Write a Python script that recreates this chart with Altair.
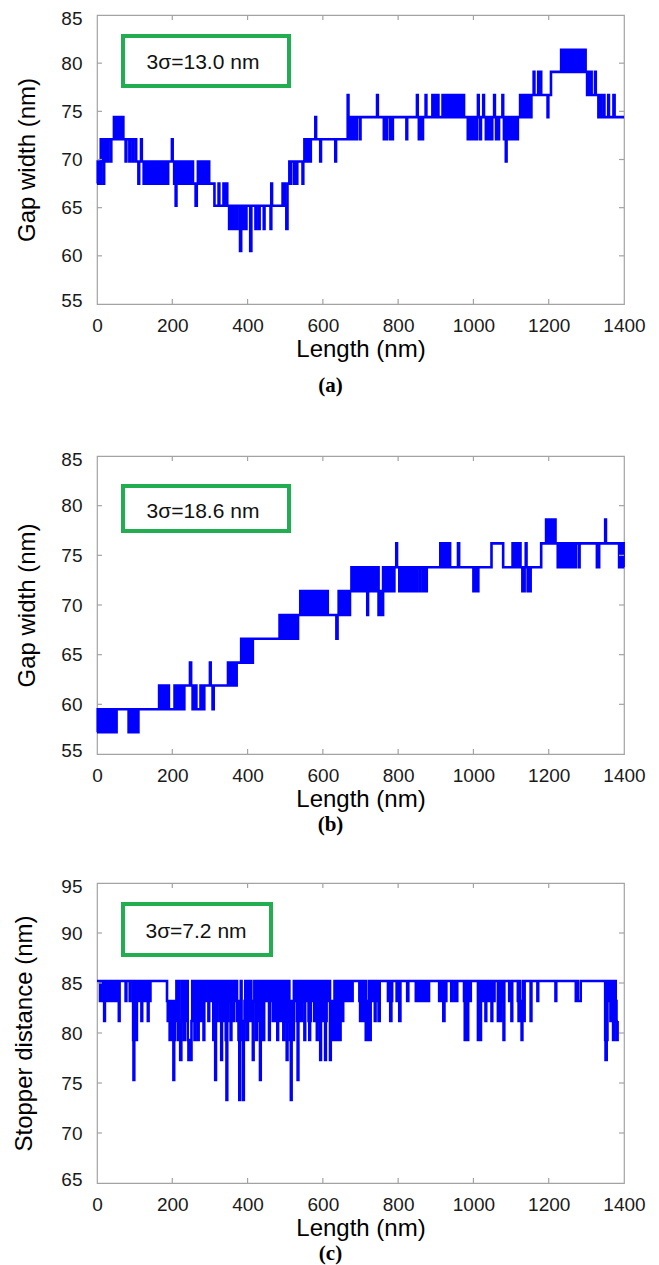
import altair as alt
import pandas as pd

# ---------------- data (Length nm, value nm), step-after ----------------
PTS_A = [(0,67.5),(2,69.8),(4,67.5),(6,69.8),(8,67.5),(10,72.1),(12,69.8),(14,72.1),(17,67.5),(19,72.1),(22,69.8),(24,72.1),(27,69.8),(29,72.1),(36,69.8),(38,72.1),(45,74.4),(48,72.1),(50,74.4),(53,72.1),(55,74.4),(58,72.1),(60,74.4),(64,72.1),(66,74.4),(70,72.1),(76,69.8),(78,72.1),(86,69.8),(88,72.1),(95,69.8),(97,72.1),(104,69.8),(110,67.5),(112,69.8),(117,72.1),(119,69.8),(124,67.5),(126,69.8),(132,67.5),(134,69.8),(136,67.5),(138,69.8),(140,67.5),(142,69.8),(145,67.5),(147,69.8),(150,67.5),(152,69.8),(156,67.5),(158,69.8),(162,67.5),(164,69.8),(167,67.5),(169,69.8),(172,67.5),(174,69.8),(177,67.5),(179,69.8),(182,67.5),(184,69.8),(187,67.5),(189,69.8),(199,72.1),(201,69.8),(205,67.5),(207,69.8),(209,65.2),(211,67.5),(214,69.8),(217,67.5),(220,69.8),(224,67.5),(226,69.8),(230,67.5),(233,69.8),(238,67.5),(240,69.8),(246,67.5),(249,69.8),(255,67.5),(262,65.2),(265,67.5),(268,69.8),(272,67.5),(275,69.8),(280,67.5),(284,69.8),(290,67.5),(293,69.8),(298,67.5),(312,65.2),(323,67.5),(325,65.2),(336,67.5),(338,65.2),(344,67.5),(346,65.2),(351,62.8),(353,65.2),(355,62.8),(357,65.2),(359,62.8),(361,65.2),(363,62.8),(365,65.2),(367,62.8),(369,65.2),(371,62.8),(373,65.2),(380,60.5),(383,65.2),(388,62.8),(390,65.2),(395,62.8),(397,65.2),(407,60.5),(410,65.2),(421,62.8),(423,65.2),(430,62.8),(432,65.2),(443,62.8),(445,65.2),(461,62.8),(463,67.5),(465,65.2),(493,67.5),(495,65.2),(497,67.5),(499,65.2),(503,62.8),(506,67.5),(511,69.8),(514,67.5),(516,69.8),(524,67.5),(526,69.8),(530,67.5),(532,69.8),(546,67.5),(548,69.8),(551,72.1),(554,69.8),(556,72.1),(560,69.8),(562,72.1),(566,69.8),(568,72.1),(580,74.4),(582,72.1),(593,69.8),(595,72.1),(633,69.8),(635,72.1),(666,76.7),(668,74.4),(672,72.1),(674,74.4),(676,72.1),(678,74.4),(680,72.1),(682,74.4),(688,72.1),(690,74.4),(698,72.1),(700,74.4),(744,76.7),(746,74.4),(762,72.1),(764,74.4),(768,72.1),(770,74.4),(778,72.1),(780,74.4),(784,72.1),(786,74.4),(822,72.1),(824,74.4),(850,76.7),(852,74.4),(855,72.1),(857,74.4),(859,72.1),(861,74.4),(863,72.1),(866,74.4),(873,76.7),(875,74.4),(891,76.7),(893,74.4),(899,76.7),(901,74.4),(905,76.7),(907,74.4),(918,76.7),(920,74.4),(922,76.7),(924,74.4),(926,76.7),(929,74.4),(931,76.7),(933,74.4),(935,76.7),(938,74.4),(940,76.7),(942,74.4),(944,76.7),(947,74.4),(949,76.7),(951,74.4),(953,76.7),(956,74.4),(958,76.7),(960,74.4),(962,76.7),(965,74.4),(967,76.7),(969,74.4),(971,76.7),(975,74.4),(985,72.1),(987,74.4),(989,72.1),(991,74.4),(993,72.1),(995,74.4),(998,72.1),(1000,74.4),(1002,72.1),(1005,74.4),(1007,72.1),(1010,74.4),(1012,76.7),(1014,74.4),(1018,72.1),(1020,74.4),(1026,76.7),(1028,74.4),(1033,72.1),(1035,74.4),(1040,72.1),(1042,74.4),(1048,72.1),(1050,74.4),(1055,76.7),(1057,74.4),(1060,72.1),(1062,74.4),(1066,72.1),(1068,74.4),(1077,76.7),(1079,74.4),(1081,72.1),(1083,74.4),(1086,69.8),(1088,72.1),(1091,74.4),(1093,72.1),(1096,74.4),(1098,72.1),(1101,74.4),(1104,72.1),(1107,74.4),(1109,72.1),(1112,74.4),(1115,72.1),(1118,74.4),(1124,76.7),(1126,74.4),(1128,76.7),(1131,74.4),(1133,76.7),(1136,74.4),(1138,76.7),(1141,74.4),(1143,76.7),(1146,74.4),(1148,76.7),(1152,74.4),(1154,76.7),(1160,79.1),(1162,76.7),(1172,79.1),(1174,76.7),(1178,79.1),(1180,76.7),(1197,74.4),(1199,76.7),(1206,79.1),(1233,81.4),(1237,79.1),(1239,81.4),(1243,79.1),(1245,81.4),(1249,79.1),(1251,81.4),(1255,79.1),(1257,81.4),(1262,79.1),(1264,81.4),(1268,79.1),(1270,81.4),(1275,79.1),(1277,81.4),(1282,79.1),(1284,81.4),(1290,79.1),(1292,81.4),(1298,79.1),(1302,76.7),(1305,79.1),(1308,76.7),(1311,79.1),(1314,76.7),(1323,79.1),(1325,76.7),(1332,74.4),(1335,76.7),(1339,74.4),(1346,76.7),(1348,74.4),(1358,76.7),(1360,74.4),(1372,76.7),(1375,74.4),(1400,74.4)]

PTS_B = [(0,57.2),(2,59.5),(4,57.2),(6,59.5),(8,57.2),(10,59.5),(12,57.2),(14,59.5),(16,57.2),(18,59.5),(20,57.2),(22,59.5),(25,57.2),(27,59.5),(29,57.2),(31,59.5),(34,57.2),(36,59.5),(38,57.2),(41,59.5),(43,57.2),(46,59.5),(48,57.2),(52,59.5),(84,57.2),(86,59.5),(88,57.2),(90,59.5),(96,57.2),(98,59.5),(104,57.2),(106,59.5),(108,57.2),(110,59.5),(165,61.9),(167,59.5),(169,61.9),(171,59.5),(173,61.9),(175,59.5),(177,61.9),(179,59.5),(181,61.9),(183,59.5),(185,61.9),(187,59.5),(189,61.9),(191,59.5),(206,61.9),(208,59.5),(210,61.9),(212,59.5),(214,61.9),(216,59.5),(218,61.9),(220,59.5),(223,61.9),(225,59.5),(227,61.9),(230,59.5),(232,61.9),(247,64.2),(250,61.9),(254,59.5),(256,61.9),(258,59.5),(262,61.9),(264,59.5),(275,61.9),(277,59.5),(280,61.9),(283,59.5),(285,61.9),(300,64.2),(302,61.9),(307,59.5),(310,61.9),(348,64.2),(350,61.9),(352,64.2),(354,61.9),(356,64.2),(358,61.9),(361,64.2),(363,61.9),(366,64.2),(368,61.9),(371,64.2),(383,66.6),(385,64.2),(387,66.6),(389,64.2),(391,66.6),(393,64.2),(395,66.6),(397,64.2),(399,66.6),(401,64.2),(404,66.6),(406,64.2),(409,66.6),(411,64.2),(414,66.6),(485,69.0),(487,66.6),(489,69.0),(491,66.6),(493,69.0),(495,66.6),(497,69.0),(499,66.6),(502,69.0),(504,66.6),(507,69.0),(510,66.6),(514,69.0),(516,66.6),(519,69.0),(521,66.6),(524,69.0),(526,66.6),(529,69.0),(532,66.6),(534,69.0),(540,71.4),(544,69.0),(547,71.4),(550,69.0),(552,71.4),(556,69.0),(559,71.4),(562,69.0),(565,71.4),(568,69.0),(571,71.4),(574,69.0),(577,71.4),(580,69.0),(583,71.4),(586,69.0),(589,71.4),(592,69.0),(596,71.4),(599,69.0),(603,71.4),(606,69.0),(610,71.4),(613,69.0),(636,66.6),(639,69.0),(642,71.4),(645,69.0),(648,71.4),(651,69.0),(654,71.4),(657,69.0),(660,71.4),(663,69.0),(666,71.4),(669,69.0),(672,71.4),(676,73.8),(678,71.4),(680,73.8),(682,71.4),(684,73.8),(687,71.4),(690,73.8),(693,71.4),(696,73.8),(699,71.4),(702,73.8),(705,71.4),(708,73.8),(711,71.4),(715,73.8),(718,69.0),(720,71.4),(724,73.8),(730,71.4),(732,73.8),(736,71.4),(738,73.8),(742,71.4),(744,73.8),(748,69.0),(750,71.4),(752,69.0),(755,71.4),(758,69.0),(760,73.8),(764,71.4),(766,73.8),(770,71.4),(772,73.8),(776,71.4),(778,73.8),(782,71.4),(784,73.8),(788,71.4),(790,73.8),(795,76.2),(797,73.8),(803,71.4),(805,73.8),(810,71.4),(812,73.8),(817,71.4),(819,73.8),(824,71.4),(826,73.8),(832,71.4),(834,73.8),(840,71.4),(842,73.8),(848,71.4),(850,73.8),(857,71.4),(859,73.8),(866,71.4),(868,73.8),(874,71.4),(876,73.8),(912,76.2),(914,73.8),(916,76.2),(918,73.8),(920,76.2),(922,73.8),(925,76.2),(927,73.8),(930,76.2),(932,73.8),(935,76.2),(938,73.8),(959,76.2),(962,73.8),(1000,71.4),(1002,73.8),(1004,71.4),(1007,73.8),(1009,71.4),(1013,73.8),(1048,76.2),(1079,73.8),(1104,76.2),(1106,73.8),(1108,76.2),(1110,73.8),(1112,76.2),(1115,73.8),(1117,76.2),(1120,73.8),(1122,76.2),(1125,73.8),(1130,71.4),(1132,73.8),(1134,71.4),(1136,73.8),(1139,76.2),(1141,73.8),(1144,71.4),(1146,73.8),(1148,71.4),(1152,73.8),(1180,76.2),(1193,78.6),(1196,76.2),(1198,78.6),(1201,76.2),(1203,78.6),(1206,76.2),(1208,78.6),(1211,76.2),(1213,78.6),(1218,76.2),(1224,73.8),(1226,76.2),(1228,73.8),(1230,76.2),(1232,73.8),(1235,76.2),(1237,73.8),(1240,76.2),(1242,73.8),(1245,76.2),(1248,73.8),(1250,76.2),(1254,73.8),(1256,76.2),(1262,73.8),(1264,76.2),(1270,73.8),(1272,76.2),(1280,73.8),(1282,76.2),(1328,73.8),(1334,76.2),(1350,78.6),(1352,76.2),(1387,73.8),(1389,76.2),(1391,73.8),(1393,76.2),(1395,73.8),(1397,76.2),(1399,73.8),(1400,73.8)]

PTS_C = [(0,85.2),(8,83.2),(10,85.2),(13,83.2),(15,85.2),(19,81.2),(21,85.2),(24,83.2),(26,85.2),(29,83.2),(31,85.2),(33,83.2),(35,85.2),(37,83.2),(39,85.2),(42,83.2),(44,85.2),(46,83.2),(49,85.2),(51,83.2),(53,85.2),(58,81.2),(60,85.2),(76,83.2),(78,85.2),(87,83.2),(89,85.2),(96,79.3),(97,75.3),(99,79.3),(101,85.2),(104,79.3),(106,85.2),(109,83.2),(111,85.2),(113,83.2),(115,85.2),(118,81.2),(120,83.2),(122,85.2),(125,83.2),(127,85.2),(130,83.2),(132,85.2),(135,81.2),(137,85.2),(140,83.2),(142,85.2),(186,83.2),(188,81.2),(190,83.2),(193,79.3),(195,81.2),(198,83.2),(201,79.3),(203,75.3),(205,79.3),(207,83.2),(209,81.2),(211,85.2),(213,81.2),(215,79.3),(217,85.2),(219,81.2),(221,77.3),(224,81.2),(226,85.2),(229,83.2),(231,79.3),(233,85.2),(236,81.2),(238,85.2),(241,79.3),(243,77.3),(246,79.3),(248,77.3),(251,81.2),(253,85.2),(257,83.2),(259,79.3),(261,85.2),(263,81.2),(265,85.2),(268,79.3),(270,83.2),(272,85.2),(275,81.2),(277,85.2),(281,83.2),(283,79.3),(285,85.2),(286,83.2),(288,85.2),(291,83.2),(293,85.2),(296,81.2),(298,83.2),(300,85.2),(303,83.2),(305,85.2),(309,79.3),(311,85.2),(314,75.3),(316,81.2),(318,85.2),(321,83.2),(323,85.2),(325,81.2),(327,85.2),(330,77.3),(332,81.2),(333,85.2),(335,81.2),(337,83.2),(339,85.2),(342,79.3),(344,73.3),(346,81.2),(348,85.2),(350,83.2),(352,85.2),(355,79.3),(357,83.2),(359,85.2),(362,81.2),(364,85.2),(367,83.2),(369,85.2),(372,81.2),(374,83.2),(376,79.3),(378,73.3),(380,81.2),(382,85.2),(384,79.3),(386,81.2),(388,73.3),(390,79.3),(392,83.2),(394,85.2),(397,81.2),(399,79.3),(401,83.2),(403,85.2),(405,81.2),(407,85.2),(410,83.2),(412,81.2),(414,77.3),(416,83.2),(418,85.2),(421,83.2),(423,79.3),(425,85.2),(426,81.2),(428,85.2),(431,83.2),(433,75.3),(435,79.3),(437,85.2),(440,83.2),(442,79.3),(444,83.2),(446,85.2),(449,83.2),(451,85.2),(455,83.2),(457,79.3),(459,85.2),(462,83.2),(464,85.2),(467,81.2),(469,85.2),(472,81.2),(474,85.2),(477,83.2),(479,79.3),(481,85.2),(482,83.2),(484,85.2),(487,81.2),(489,85.2),(493,83.2),(495,79.3),(497,83.2),(499,85.2),(502,81.2),(504,77.3),(506,81.2),(508,85.2),(511,83.2),(513,79.3),(515,73.3),(517,79.3),(519,83.2),(521,79.3),(523,85.2),(526,83.2),(528,85.2),(531,81.2),(533,75.3),(535,81.2),(537,85.2),(540,83.2),(542,81.2),(544,83.2),(546,85.2),(549,83.2),(551,79.3),(553,85.2),(556,83.2),(558,85.2),(562,81.2),(564,79.3),(566,81.2),(568,85.2),(571,83.2),(573,85.2),(577,81.2),(579,85.2),(582,83.2),(584,79.3),(586,83.2),(588,85.2),(591,81.2),(593,77.3),(595,85.2),(598,83.2),(600,81.2),(602,85.2),(606,77.3),(608,81.2),(610,85.2),(614,83.2),(616,85.2),(619,77.3),(621,81.2),(623,79.3),(625,83.2),(627,79.3),(629,81.2),(631,85.2),(634,79.3),(636,83.2),(638,79.3),(640,85.2),(643,81.2),(645,79.3),(647,83.2),(649,85.2),(652,81.2),(654,85.2),(656,83.2),(658,85.2),(662,83.2),(664,85.2),(667,83.2),(669,85.2),(672,83.2),(674,85.2),(677,83.2),(679,85.2),(697,83.2),(699,81.2),(701,85.2),(705,83.2),(707,81.2),(709,85.2),(714,79.3),(716,83.2),(718,79.3),(720,81.2),(722,85.2),(725,79.3),(727,83.2),(729,85.2),(733,83.2),(735,85.2),(738,81.2),(740,83.2),(742,85.2),(746,83.2),(748,81.2),(751,85.2),(773,83.2),(775,85.2),(779,81.2),(782,83.2),(784,85.2),(796,83.2),(798,85.2),(803,81.2),(806,85.2),(824,83.2),(827,85.2),(847,83.2),(849,85.2),(853,83.2),(855,85.2),(859,83.2),(863,85.2),(867,83.2),(869,85.2),(874,83.2),(876,85.2),(880,83.2),(882,85.2),(909,83.2),(911,85.2),(914,83.2),(916,85.2),(920,81.2),(923,85.2),(926,83.2),(928,85.2),(941,83.2),(943,85.2),(950,83.2),(952,85.2),(955,83.2),(957,85.2),(975,83.2),(977,79.3),(979,83.2),(981,85.2),(984,79.3),(986,83.2),(988,85.2),(991,83.2),(993,85.2),(1012,79.3),(1014,85.2),(1018,79.3),(1020,85.2),(1026,83.2),(1028,85.2),(1032,81.2),(1034,85.2),(1038,83.2),(1040,85.2),(1046,83.2),(1048,81.2),(1050,85.2),(1054,83.2),(1056,85.2),(1065,81.2),(1067,85.2),(1071,81.2),(1073,85.2),(1077,83.2),(1080,79.3),(1082,85.2),(1095,83.2),(1097,85.2),(1101,81.2),(1103,85.2),(1118,83.2),(1120,81.2),(1122,85.2),(1124,83.2),(1126,81.2),(1128,79.3),(1130,83.2),(1132,85.2),(1134,81.2),(1136,85.2),(1152,81.2),(1154,85.2),(1170,83.2),(1172,85.2),(1218,83.2),(1220,85.2),(1272,83.2),(1276,85.2),(1277,83.2),(1285,85.2),(1350,79.3),(1351,77.3),(1354,79.3),(1356,85.2),(1359,83.2),(1361,85.2),(1364,81.2),(1366,85.2),(1369,83.2),(1371,79.3),(1373,81.2),(1375,85.2),(1378,83.2),(1380,79.3),(1383,81.2),(1384,81.2)]

X_LABELS = [0, 200, 400, 600, 800, 1000, 1200, 1400]
X_TICKS = [200, 400, 600, 800, 1000, 1200]
Y_LABELS_AB = [55, 60, 65, 70, 75, 80, 85]
Y_TICKS_AB = [60, 65, 70, 75, 80]
Y_LABELS_C = [65, 70, 75, 80, 85, 90, 95]
Y_TICKS_C = [70, 75, 80, 85, 90]
Y_TITLES = ["Gap width (nm)", "Gap width (nm)", "Stopper distance (nm)"]
X_TITLE = "Length (nm)"
BOX_TEXTS = ["3σ=13.0 nm", "3σ=18.6 nm", "3σ=7.2 nm"]
CAPTIONS = ["(a)", "(b)", "(c)"]

BLUE = "#0000ff"
GREEN = "#22ad50"
GRAY = "#a3a3a3"
FONT = "Liberation Sans"
W = 527


def panel(pts, ydom, ylabels, yticks, ytitle, box_text, caption, H,
          box, text_xy, title_pad, cap_dy, spacer=None):
    df = pd.DataFrame({"x": [p[0] for p in pts], "y": [p[1] for p in pts]})
    xs = alt.Scale(domain=[0, 1400], nice=False, zero=False)
    ys = alt.Scale(domain=ydom, nice=False, zero=False)
    xax = alt.Axis(values=X_LABELS, title=X_TITLE, ticks=False, tickSize=0,
                   domain=False, grid=False, labelPadding=12, titlePadding=2,
                   labelFlush=False, format="d")
    yax = alt.Axis(values=ylabels, title=ytitle, ticks=False, tickSize=0,
                   domain=False, grid=False, labelPadding=15,
                   titlePadding=title_pad, labelFlush=True,
                   labelFlushOffset=6, format="d")
    X = alt.X("x:Q", scale=xs, axis=xax)
    Y = alt.Y("y:Q", scale=ys, axis=yax)

    line = alt.Chart(df).mark_line(interpolate="step-after", color=BLUE,
                                   strokeWidth=2.6).encode(x=X, y=Y)
    xt = pd.DataFrame({"x": X_TICKS})
    yt = pd.DataFrame({"y": yticks})
    rs = dict(color=GRAY, strokeWidth=1.2)
    xb = alt.Chart(xt).mark_rule(**rs).encode(x=X, y=alt.value(H), y2=alt.value(H - 5))
    xtop = alt.Chart(xt).mark_rule(**rs).encode(x=X, y=alt.value(0), y2=alt.value(5))
    yl = alt.Chart(yt).mark_rule(**rs).encode(y=Y, x=alt.value(0), x2=alt.value(5))
    yr = alt.Chart(yt).mark_rule(**rs).encode(y=Y, x=alt.value(W), x2=alt.value(W - 5))

    one = pd.DataFrame({"k": [0]})
    x1, y1, x2, y2 = box
    rect = alt.Chart(one).mark_rect(fillOpacity=0, stroke=GREEN, strokeWidth=4).encode(
        x=alt.value(x1), x2=alt.value(x2), y=alt.value(y1), y2=alt.value(y2))
    txt = alt.Chart(one).mark_text(text=box_text, font=FONT, fontSize=21, color="#111111",
                                   align="center", baseline="middle").encode(
        x=alt.value(text_xy[0]), y=alt.value(text_xy[1]))
    cap = alt.Chart(one).mark_text(text=caption, font="Liberation Serif", fontWeight="bold",
                                   fontSize=21, color="#000000", align="center",
                                   baseline="middle").encode(
        x=alt.value(233.5), y=alt.value(H + cap_dy))
    layers = [line, xb, xtop, yl, yr, rect, txt, cap]
    if spacer is not None:
        layers.append(alt.Chart(one).mark_text(text=".", opacity=0, fontSize=10).encode(
            x=alt.value(233.5), y=alt.value(H + spacer)))
    return alt.layer(*layers).properties(width=W, height=H)


pa = panel(PTS_A, [55, 85], Y_LABELS_AB, Y_TICKS_AB, Y_TITLES[0], BOX_TEXTS[0], CAPTIONS[0],
           289, (26, 21, 192, 71), (106, 48), 21, 82, spacer=99)
pb = panel(PTS_B, [55, 85], Y_LABELS_AB, Y_TICKS_AB, Y_TITLES[1], BOX_TEXTS[1], CAPTIONS[1],
           298, (26, 30, 192, 75), (106, 56), 21, 71)
pc = panel(PTS_C, [65, 95], Y_LABELS_C, Y_TICKS_C, Y_TITLES[2], BOX_TEXTS[2], CAPTIONS[2],
           300, (26, 21, 174, 72), (99, 49), 24, 71)

chart = alt.vconcat(pa, pb, pc, spacing=40).properties(
    padding={"left": 4, "top": 0, "right": 0, "bottom": 0}
).configure_view(
    stroke=GRAY, strokeWidth=1.2
).configure_axis(
    labelFont=FONT, labelFontSize=19, labelColor="#1a1a1a",
    titleFont=FONT, titleFontSize=24, titleFontWeight="normal", titleColor="#000000"
)

chart.save("out.html", embed_options={"renderer": "svg", "actions": False})
